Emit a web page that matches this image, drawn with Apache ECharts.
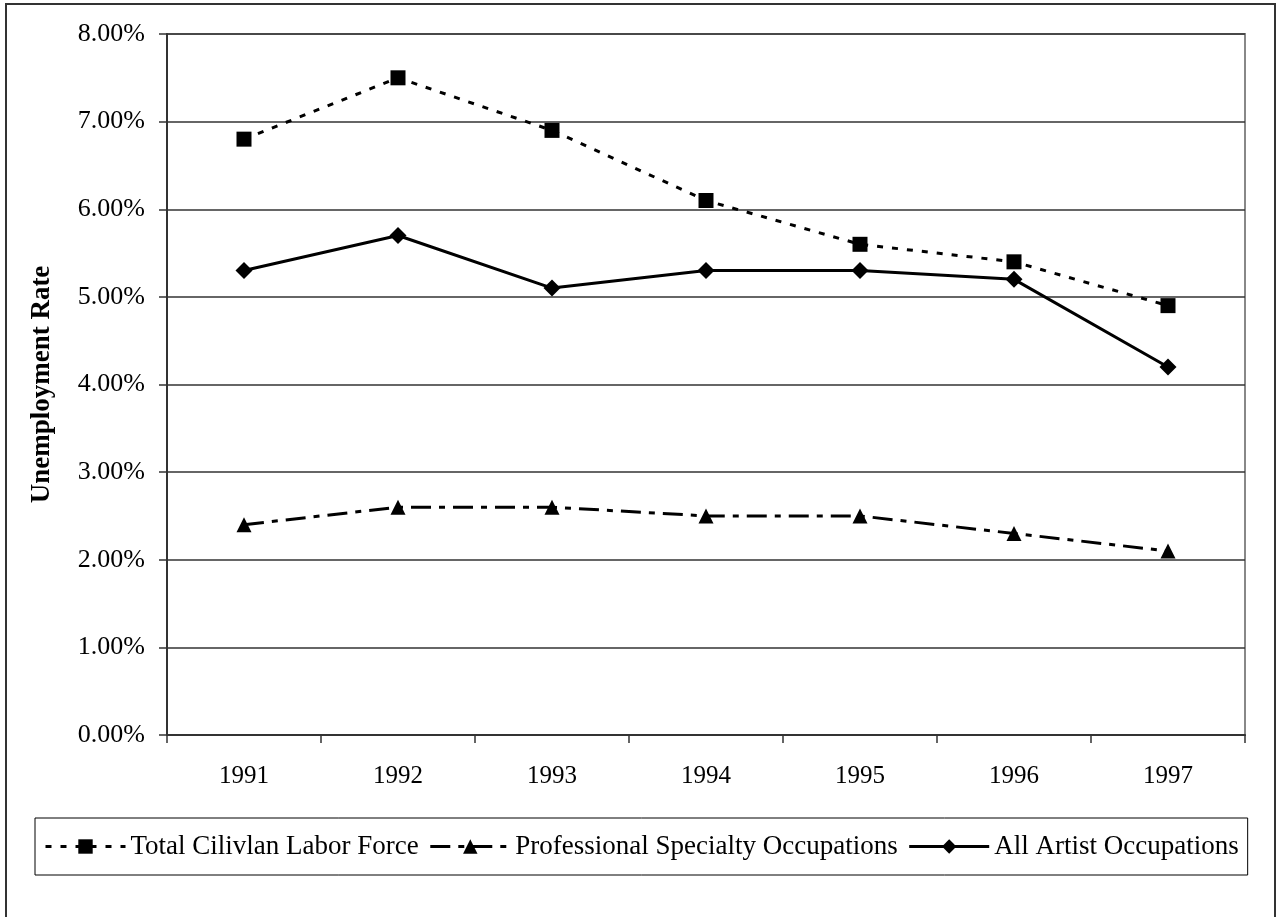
<!DOCTYPE html>
<html><head><meta charset="utf-8">
<script src="https://cdn.jsdelivr.net/npm/echarts@6/dist/echarts.min.js"></script>
<style>html,body{margin:0;padding:0;background:#fff}#c{width:1278px;height:917px}</style>
</head><body><div id="c"></div>
<script>
const years = ['1991','1992','1993','1994','1995','1996','1997'];
const totalLabor = [6.8, 7.5, 6.9, 6.1, 5.6, 5.4, 4.9];
const professional = [2.4, 2.6, 2.6, 2.5, 2.5, 2.3, 2.1];
const artists = [5.3, 5.7, 5.1, 5.3, 5.3, 5.2, 4.2];
const seriesNames = ['Total Cilivlan Labor Force', 'Professional Specialty Occupations', 'All Artist Occupations'];
const font = 'Liberation Serif';
const chart = echarts.init(document.getElementById('c'), null, {renderer:'canvas'});
chart.setOption({
  animation:false,
  backgroundColor:'#fff',
  graphic:[{type:'rect', shape:{x:6,y:4,width:1269,height:940}, style:{fill:'none', stroke:'#333', lineWidth:2}, silent:true, z:-1}],
  grid:{left:167, right:33, top:34, bottom:182, show:true, borderColor:'#888', borderWidth:2, backgroundColor:'#fff'},
  legend:{
    left:35, top:818, orient:'horizontal',
    data:seriesNames,
    itemWidth:80, itemHeight:18, itemGap:10,
    padding:[15,9,15,9],
    borderColor:'#000', borderWidth:1,
    lineStyle:{width:3},
    textStyle:{fontFamily:font, fontSize:27, color:'#000'}
  },
  xAxis:{
    type:'category', data:years, boundaryGap:true,
    axisLine:{lineStyle:{color:'#333', width:2}},
    axisTick:{show:true, length:8, inside:false, lineStyle:{color:'#333', width:1.5}},
    axisLabel:{fontFamily:font, fontSize:25, color:'#000', margin:29},
    splitLine:{show:false}
  },
  yAxis:{
    type:'value', min:0, max:8, interval:1,
    name:'Unemployment Rate', nameLocation:'middle', nameGap:111,
    nameTextStyle:{fontFamily:font, fontSize:27, fontWeight:'bold', color:'#000'},
    axisLine:{show:true, lineStyle:{color:'#333', width:2}},
    axisTick:{show:true, length:8, lineStyle:{color:'#333', width:1.5}},
    axisLabel:{fontFamily:font, fontSize:26, color:'#000', margin:22, formatter:v=>v.toFixed(2)+'%'},
    splitLine:{show:true, lineStyle:{color:'#333', width:1.5}}
  },
  series:[
    {name:seriesNames[0], type:'line', data:totalLabor, symbol:'rect', symbolSize:15,
      lineStyle:{color:'#000', width:3, type:[6,9]}, itemStyle:{color:'#000'}},
    {name:seriesNames[1], type:'line', data:professional, symbol:'triangle', symbolSize:15,
      lineStyle:{color:'#000', width:3, type:[20,8,6,8]}, itemStyle:{color:'#000'}},
    {name:seriesNames[2], type:'line', data:artists, symbol:'diamond', symbolSize:17,
      lineStyle:{color:'#000', width:3, type:'solid'}, itemStyle:{color:'#000'}}
  ]
});
</script></body></html>
